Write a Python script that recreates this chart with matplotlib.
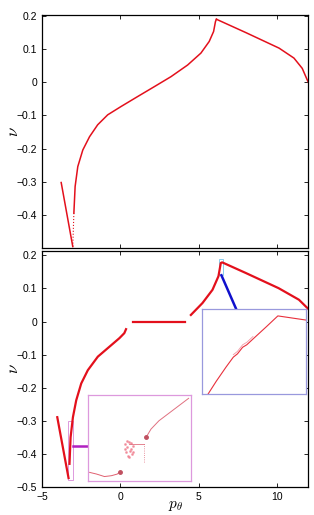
import numpy as np
import matplotlib
matplotlib.use('Agg')
from matplotlib import pyplot as plt

plt.rcParams['font.family'] = ['Liberation Sans', 'DejaVu Sans']
plt.rcParams['mathtext.fontset'] = 'cm'

# top panel
top_left_x = [-3.78, -3.04]
top_left_y = [-0.302, -0.495]
top_dot_x = [-3.04, -2.97]
top_dot_y = [-0.495, -0.394]
top_mid_x = [-2.97, -2.89, -2.72, -2.40, -1.97, -1.45, -0.81, 0.04, 1.10, 2.17, 3.23,
             4.29, 5.14, 5.67, 5.95, 6.07, 6.13]
top_mid_y = [-0.394, -0.314, -0.254, -0.204, -0.164, -0.128, -0.098, -0.073, -0.043, -0.013, 0.017,
             0.052, 0.088, 0.123, 0.153, 0.183, 0.19]
top_right_x = [6.13, 8.0, 10.13, 11.08, 11.61, 11.93, 12.0]
top_right_y = [0.19, 0.15, 0.103, 0.073, 0.042, 0.007, 0.0]

# bottom panel
bot_left_x = [-4.03, -3.31]
bot_left_y = [-0.289, -0.473]
bot_mid_x = [-3.25, -3.18, -3.03, -2.82, -2.5, -2.08, -1.44, -0.70, -0.06, 0.25, 0.36]
bot_mid_y = [-0.43, -0.35, -0.289, -0.238, -0.187, -0.147, -0.106, -0.076, -0.05, -0.035, -0.023]
bot_flat_x = [0.78, 4.1]
bot_flat_y = [0.0, 0.0]
bot_right_x = [4.5, 5.24, 5.88, 6.26, 6.41, 6.5, 8.0, 10.1, 11.4, 12.0]
bot_right_y = [0.02, 0.056, 0.096, 0.137, 0.177, 0.179, 0.147, 0.101, 0.066, 0.038]

# inset contents (normalised inset coordinates)
li_a_x = [0.0, 0.07, 0.15, 0.22, 0.28, 0.31]
li_a_y = [0.10, 0.08, 0.05, 0.06, 0.08, 0.11]
li_cloud_x = [0.36, 0.38, 0.40, 0.42, 0.44, 0.37, 0.39, 0.41, 0.43, 0.38, 0.40, 0.42, 0.36, 0.44]
li_cloud_y = [0.44, 0.40, 0.46, 0.38, 0.42, 0.34, 0.30, 0.36, 0.32, 0.48, 0.28, 0.45, 0.38, 0.35]
li_flat_x = [0.40, 0.55]
li_flat_y = [0.44, 0.44]
li_vert_x = [0.55, 0.55]
li_vert_y = [0.22, 0.45]
li_b_x = [0.57, 0.62, 0.70, 0.80, 0.90, 1.0]
li_b_y = [0.52, 0.62, 0.72, 0.81, 0.90, 0.99]

ri_x = [0.055, 0.135, 0.23, 0.30, 0.34, 0.39, 0.43, 0.49, 0.62, 0.73, 1.0]
ri_y = [0.0, 0.157, 0.33, 0.45, 0.49, 0.57, 0.60, 0.67, 0.82, 0.95, 0.90]

red = '#e3101c'

fig = plt.figure(figsize=(3.14, 5.15), dpi=100)
ax1 = fig.add_axes([0.134, 0.518, 0.848, 0.453])
ax2 = fig.add_axes([0.134, 0.0544, 0.848, 0.458])

for ax in (ax1, ax2):
    ax.set_xlim(-5, 12)
    ax.tick_params(direction='in', top=True, right=True, length=3, width=0.6, labelsize=7.5)
    for s in ax.spines.values():
        s.set_linewidth(0.9)
    ax.set_ylabel(r'$\nu$', fontsize=12)
    ax.yaxis.set_label_coords(-0.08, 0.5)

ax1.plot(top_left_x, top_left_y, color=red, lw=1.1)
ax1.plot(top_dot_x, top_dot_y, color=red, lw=0.8, ls=':')
ax1.plot(top_mid_x, top_mid_y, color=red, lw=1.1)
ax1.plot(top_right_x, top_right_y, color=red, lw=1.1)
ax1.set_ylim(-0.5, 0.203)
ax1.set_yticks([0.2, 0.1, 0, -0.1, -0.2, -0.3, -0.4])
ax1.set_yticklabels(['0.2', '0.1', '0', '\u22120.1', '\u22120.2', '\u22120.3', '\u22120.4'])
ax1.set_xticks([0, 5, 10])
ax1.set_xticklabels([])

ax2.plot(bot_left_x, bot_left_y, color=red, lw=1.6)
ax2.plot(bot_mid_x, bot_mid_y, color=red, lw=1.6)
ax2.plot(bot_flat_x, bot_flat_y, color=red, lw=1.6)
ax2.plot(bot_right_x, bot_right_y, color=red, lw=1.6)
ax2.set_ylim(-0.5, 0.213)
ax2.set_yticks([0.2, 0.1, 0, -0.1, -0.2, -0.3, -0.4, -0.5])
ax2.set_yticklabels(['0.2', '0.1', '0', '\u22120.1', '\u22120.2', '\u22120.3', '\u22120.4', '\u22120.5'])
ax2.set_xticks([-5, 0, 5, 10])
ax2.set_xticklabels(['\u22125', '0', '5', '10'])
ax2.set_xlabel(r'$p_\theta$', fontsize=11)
ax2.xaxis.set_label_coords(0.5, -0.05)

# zoom markers and connectors
ax2.add_patch(plt.Rectangle((-3.35, -0.48), 0.32, 0.18, fill=False, ec='#dd99dd', lw=0.7))
ax2.plot([-3.03, -2.11], [-0.375, -0.375], color='#b020c0', lw=1.8)
ax2.add_patch(plt.Rectangle((6.3, 0.14), 0.25, 0.05, fill=False, ec='#88ccee', lw=0.7))
ax2.plot([6.45, 7.4], [0.14, 0.037], color='#1010cc', lw=1.8)

axl = fig.add_axes([0.279, 0.0666, 0.328, 0.1664])
axl.plot(li_a_x, li_a_y, color='#e06070', lw=0.7)
axl.plot(li_a_x[-1:], li_a_y[-1:], 'o', color='#c05060', ms=2.5)
axl.plot(li_cloud_x, li_cloud_y, '.', color='#f08090', ms=2, alpha=0.7)
axl.plot(li_flat_x, li_flat_y, color='#e07080', lw=0.6)
axl.plot(li_vert_x, li_vert_y, color='#e07080', lw=0.6, ls=':')
axl.plot(li_b_x, li_b_y, color='#e07080', lw=0.7)
axl.plot(li_b_x[:1], li_b_y[:1], 'o', color='#c05060', ms=2.5)
axl.set_xlim(-0.02, 1.02)
axl.set_ylim(0, 1.03)
axl.set_xticks([])
axl.set_yticks([])
for s in axl.spines.values():
    s.set_color('#dd99dd')
    s.set_linewidth(0.9)

axr = fig.add_axes([0.644, 0.2344, 0.330, 0.165])
axr.plot(ri_x, ri_y, color='#e8303c', lw=0.8)
axr.plot(ri_x[3:8], [v + 0.03 for v in ri_y[3:8]], color='#f08090', lw=0.6, alpha=0.8)
axr.set_xlim(0, 1)
axr.set_ylim(0, 1.03)
axr.set_xticks([])
axr.set_yticks([])
for s in axr.spines.values():
    s.set_color('#9999dd')
    s.set_linewidth(0.9)

plt.savefig('out.png', dpi=100)
